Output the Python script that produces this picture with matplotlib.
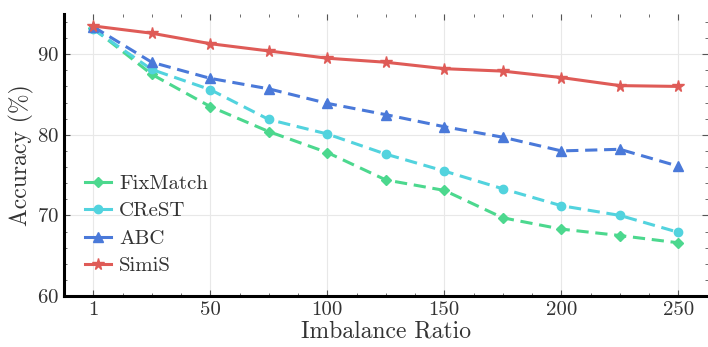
import matplotlib
matplotlib.use("Agg")
import matplotlib.pyplot as plt
import numpy as np
from matplotlib.ticker import MultipleLocator

plt.rcParams["font.family"] = ["cmr10", "DejaVu Serif"]
plt.rcParams["axes.formatter.use_mathtext"] = True
plt.rcParams["mathtext.fontset"] = "cm"
plt.rcParams["text.color"] = "#333333"
plt.rcParams["axes.labelcolor"] = "#333333"
plt.rcParams["xtick.labelcolor"] = "#333333"
plt.rcParams["ytick.labelcolor"] = "#333333"

RATIO_LABELS = ["1", "50", "100", "150", "200", "250"]
STEPS = [0, 25, 50, 75, 100, 125, 150, 175, 200, 225, 250]

FIXMATCH = [93.2, 87.5, 83.5, 80.4, 77.8, 74.4, 73.1, 69.7, 68.3, 67.5, 66.6]
CREST = [93.1, 88.1, 85.6, 81.9, 80.1, 77.6, 75.5, 73.3, 71.2, 70.0, 67.9]
ABC = [93.4, 89.0, 87.0, 85.7, 83.9, 82.5, 81.0, 79.7, 78.0, 78.2, 76.1]
SIMIS = [93.5, 92.6, 91.3, 90.4, 89.5, 89.0, 88.2, 87.9, 87.1, 86.1, 86.0]

SERIES = [
    ("FixMatch", FIXMATCH, "#4cd88e", "D", "--", 5.5),
    ("CReST", CREST, "#52d3de", "o", "--", 6),
    ("ABC", ABC, "#4a79d9", "^", "--", 7),
    ("SimiS", SIMIS, "#df5b57", "*", "-", 8.5),
]

fig = plt.figure(figsize=(7.08, 3.47), dpi=100)
ax = fig.add_axes([0.0904, 0.147, 0.909, 0.813])

x = np.array(STEPS)
for name, vals, color, marker, ls, ms in SERIES:
    ax.plot(x, vals, linestyle=ls, marker=marker, color=color, linewidth=2.2,
            markersize=ms, label=name, dashes=(4, 2.2) if ls == "--" else (None, None))

ax.set_xlim(-12.5, 262.5)
ax.set_ylim(60, 95)
ax.set_xticks([0, 50, 100, 150, 200, 250])
ax.set_xticklabels(RATIO_LABELS)
ax.set_yticks([60, 70, 80, 90])
ax.xaxis.set_minor_locator(MultipleLocator(12.5))
ax.yaxis.set_minor_locator(MultipleLocator(2))
ax.tick_params(which="both", direction="in", top=True, right=True, color="#555555")
ax.tick_params(which="major", length=4, width=0.8, labelsize=15)
ax.tick_params(which="minor", length=2, width=0.6)
ax.grid(True, which="major", color="#e8e8e8", linewidth=0.8)
ax.set_axisbelow(True)

for side in ["top", "right"]:
    ax.spines[side].set_visible(False)
for side in ["left", "bottom"]:
    ax.spines[side].set_linewidth(2.2)
    ax.spines[side].set_color("black")

ax.set_xlabel("Imbalance Ratio", fontsize=17, labelpad=1)
ax.set_ylabel("Accuracy (%)", fontsize=17, labelpad=2)

leg = ax.legend(loc="lower left", bbox_to_anchor=(0.0, 0.0), frameon=False, fontsize=15,
                handlelength=1.25, handletextpad=0.4, labelspacing=0.42, borderaxespad=0.6)
for h in leg.get_lines():
    h.set_linestyle("-")

fig.savefig("out.png", dpi=100)
